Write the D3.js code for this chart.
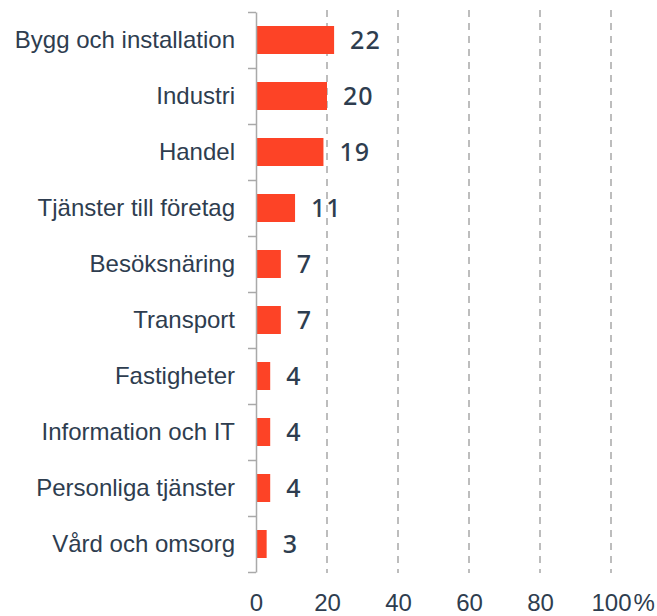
<!DOCTYPE html>
<html>
<head>
<meta charset="utf-8">
<script src="https://cdn.jsdelivr.net/npm/d3@7"></script>
<style>
  html, body { margin: 0; padding: 0; background: #fff; }
</style>
</head>
<body>
<div id="chart-wrapper"></div>
<script>
// Data
let categories = ["Bygg och installation", "Industri", "Handel", "Tjänster till företag", "Besöksnäring",
  "Transport", "Fastigheter", "Information och IT", "Personliga tjänster", "Vård och omsorg"]
let values = [22, 20, 19, 11, 7, 7, 4, 4, 4, 3]
let xTicks = [0, 20, 40, 60, 80, 100]

// Configs
let width = 657
let height = 616
let margin = {top: 12, left: 256, right: 46, bottom: 44}
let config = {
  bar: "#fd4326",
  text: "#2e3d4f",
  axis: "#a9a9a9",
  grid: "#bdbdbd"
}

const draw = () => {
  var svg = d3.select("#chart-wrapper")
    .append("svg")
    .attr("width", width)
    .attr("height", height)

  var x = d3.scaleLinear().domain([0, 100]).range([margin.left, width - margin.right])
  var y = d3.scaleBand().domain(categories).range([margin.top, height - margin.bottom]).paddingInner(0.5).paddingOuter(0.25)

  // Dashed grid lines
  svg.append("g")
    .selectAll("line")
    .data(xTicks.filter(d => d > 0))
    .join("line")
    .attr("x1", d => x(d)).attr("x2", d => x(d))
    .attr("y1", margin.top - 2).attr("y2", height - margin.bottom + 1)
    .attr("stroke", config.grid)
    .attr("stroke-width", 2)
    .attr("stroke-dasharray", "7,6")

  // Bars
  svg.append("g")
    .selectAll("rect")
    .data(values)
    .join("rect")
    .attr("x", x(0))
    .attr("y", (d, i) => y(categories[i]))
    .attr("width", d => x(d) - x(0))
    .attr("height", y.bandwidth())
    .attr("fill", config.bar)

  // Y axis line with ticks at band boundaries
  var yLin = d3.scaleLinear().domain([0, categories.length]).range([margin.top, height - margin.bottom])
  var yAxis = svg.append("g")
    .attr("transform", `translate(${x(0)},0)`)
    .call(d3.axisLeft(yLin).ticks(categories.length).tickFormat("").tickSizeInner(8).tickSizeOuter(0))
  yAxis.selectAll("line,path")
    .attr("stroke", config.axis)
    .attr("stroke-width", 1.5)

  // Category labels
  svg.append("g")
    .selectAll("text")
    .data(categories)
    .join("text")
    .attr("x", x(0) - 21)
    .attr("y", d => y(d) + y.bandwidth() / 2)
    .attr("dy", "0.35em")
    .attr("text-anchor", "end")
    .attr("fill", config.text)
    .attr("font-family", "Liberation Sans, Arial, sans-serif")
    .attr("font-size", 24)
    .text(d => d)

  // Value labels
  svg.append("g")
    .selectAll("text")
    .data(values)
    .join("text")
    .attr("x", d => x(d) + 16)
    .attr("y", (d, i) => y(categories[i]) + y.bandwidth() / 2)
    .attr("dy", "0.36em")
    .attr("fill", config.text)
    .attr("font-family", "Noto Sans, sans-serif")
    .attr("font-weight", 500)
    .attr("font-size", 25)
    .attr("letter-spacing", 1)
    .text(d => d)

  // X axis labels
  var xAxis = svg.append("g")
    .attr("transform", `translate(0,${height - margin.bottom + 19})`)
    .call(d3.axisBottom(x).tickValues(xTicks).tickSize(0))
  xAxis.select(".domain").remove()
  var xLabels = xAxis.selectAll("text")
    .attr("fill", config.text)
    .attr("font-family", "Liberation Sans, Arial, sans-serif")
    .attr("font-size", 24)
    .attr("dy", "0.71em")
  // last label gets a % sign, keeping the number centred on its tick
  xLabels.filter(d => d === 100)
    .each(function() {
      var w = this.getComputedTextLength()
      d3.select(this).attr("text-anchor", "start").attr("dx", -w / 2)
        .append("tspan").attr("dx", 2).text("%")
    })
}

draw()
</script>
</body>
</html>
